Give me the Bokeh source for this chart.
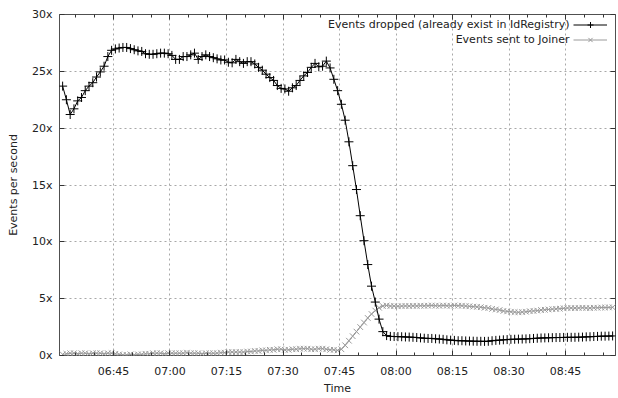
import pandas as pd
from bokeh.plotting import figure
from bokeh.models import (ColumnDataSource, FixedTicker, PrintfTickFormatter, DatetimeTickFormatter,
                          LinearAxis, DatetimeAxis, Range1d, Legend, LegendItem, Label)
from bokeh.core.properties import value
from bokeh.embed import file_html
from bokeh.resources import INLINE

# ---- data (per-minute samples) ----
day = "2015-01-01"
first_sample = "06:31:30"
x_start, x_end = "06:30:40", "08:58:16"

dropped = [
    23.7, 22.5, 21.2, 21.7, 22.4, 22.7, 23.3, 23.7, 24.0, 24.5,
    24.95, 25.45, 26.3, 26.85, 26.97, 27.05, 27.1, 27.1, 27.0, 26.9,
    26.8, 26.75, 26.55, 26.5, 26.5, 26.55, 26.6, 26.6, 26.55, 26.4,
    26.05, 26.05, 26.3, 26.3, 26.45, 26.6, 26.05, 26.3, 26.45, 26.3,
    26.2, 26.1, 26.0, 26.0, 25.8, 25.75, 26.05, 25.85, 25.7, 25.85,
    25.85, 25.65, 25.35, 25.1, 24.75, 24.45, 24.2, 23.75, 23.5, 23.45,
    23.25, 23.55, 23.75, 24.2, 24.6, 24.9, 25.35, 25.7, 25.4, 25.45,
    25.9, 25.3, 24.3, 23.3, 22.1, 20.7, 18.8, 16.7, 14.6, 12.3,
    10.1, 8.0, 6.1, 4.7, 3.2, 2.1, 1.75,
    1.68, 1.67, 1.66,
    1.65, 1.63, 1.62, 1.6, 1.58, 1.55, 1.52, 1.5, 1.5, 1.47,
    1.45, 1.42, 1.38, 1.35, 1.33, 1.3, 1.3, 1.28, 1.27, 1.26,
    1.25, 1.25, 1.24, 1.25, 1.3, 1.33, 1.35, 1.38, 1.4, 1.42,
    1.43, 1.44, 1.45, 1.46, 1.48, 1.5, 1.52, 1.54, 1.55, 1.56,
    1.57, 1.58, 1.58, 1.59, 1.6, 1.6, 1.6, 1.61, 1.62, 1.64,
    1.65, 1.67, 1.68, 1.7, 1.7, 1.71, 1.72,
]

sent = [
    0.1, 0.15, 0.2, 0.2, 0.15, 0.2, 0.2, 0.15, 0.2, 0.2,
    0.2, 0.15, 0.2, 0.2, 0.15, 0.1, 0.05, 0.05, 0.1, 0.05,
    0.1, 0.1, 0.15, 0.15, 0.2, 0.2, 0.2, 0.15, 0.2, 0.2,
    0.2, 0.2, 0.2, 0.25, 0.2, 0.2, 0.2, 0.15, 0.2, 0.2,
    0.2, 0.2, 0.25, 0.25, 0.3, 0.3, 0.3, 0.3, 0.3, 0.35,
    0.35, 0.4, 0.4, 0.45, 0.45, 0.5, 0.5, 0.55, 0.55, 0.5,
    0.5, 0.55, 0.55, 0.6, 0.6, 0.6, 0.55, 0.55, 0.6, 0.6,
    0.55, 0.5, 0.5, 0.45, 0.55, 0.9, 1.3, 1.7, 2.1, 2.5,
    2.9, 3.3, 3.65, 3.95, 4.2, 4.35, 4.4,
    4.35, 4.35, 4.33,
    4.35, 4.36, 4.35, 4.37, 4.36, 4.38, 4.37, 4.38, 4.4, 4.38,
    4.37, 4.4, 4.38, 4.37, 4.4, 4.38, 4.38, 4.35, 4.33, 4.3,
    4.28, 4.25, 4.2, 4.18, 4.1, 4.05, 4.0, 3.92, 3.88, 3.85,
    3.82, 3.8, 3.82, 3.85, 3.9, 3.92, 3.95, 4.0, 4.02, 4.05,
    4.08, 4.1, 4.12, 4.15, 4.18, 4.18, 4.17, 4.18, 4.2, 4.18,
    4.17, 4.2, 4.2, 4.22, 4.22, 4.23, 4.24,
]

x_tick_labels = ["06:45", "07:00", "07:15", "07:30", "07:45", "08:00", "08:15", "08:30", "08:45"]
y_ticks = [0, 5, 10, 15, 20, 25, 30]

series_names = ["Events dropped (already exist in IdRegistry)", "Events sent to Joiner"]

# ---- build ----
times = pd.date_range(f"{day} {first_sample}", periods=len(dropped), freq="1min")
src = ColumnDataSource(dict(t=times, dropped=dropped, sent=sent))


def ms(ts):
    return pd.Timestamp(ts).value / 1e6


major_ticks = [ms(f"{day} {lab}") for lab in x_tick_labels]
minor_ticks = [ms(t) for t in pd.date_range(f"{day} 06:35", f"{day} 08:55", freq="5min")]

FONT = "DejaVu Sans"
TXT = "#222222"

p = figure(width=618, height=398, x_axis_type="datetime",
           x_range=Range1d(ms(f"{day} {x_start}"), ms(f"{day} {x_end}")),
           y_range=Range1d(0, 30),
           output_backend="svg", toolbar_location=None,
           min_border_left=59, min_border_right=3, min_border_top=14, min_border_bottom=43)
p.background_fill_color = "white"
p.border_fill_color = "white"
p.outline_line_color = "#505050"
p.outline_line_width = 1

xticker = FixedTicker(ticks=major_ticks, minor_ticks=minor_ticks)
yticker = FixedTicker(ticks=y_ticks)
fmt = DatetimeTickFormatter(minutes="%H:%M", hourmin="%H:%M", hours="%H:%M", minsec="%H:%M")


def style_axis(ax, labels=True):
    ax.axis_line_color = None
    ax.major_tick_in = 5
    ax.major_tick_out = 0
    ax.minor_tick_in = 3
    ax.minor_tick_out = 0
    ax.major_tick_line_color = "#333333"
    ax.minor_tick_line_color = "#333333"
    ax.major_label_text_font = FONT
    if labels:
        ax.major_label_text_font_size = "11px"
        ax.major_label_text_color = TXT
    else:
        ax.major_label_text_font_size = "1px"
        ax.major_label_text_color = None
        ax.major_label_standoff = 0
    ax.axis_label_text_font = FONT
    ax.axis_label_text_font_size = "11px"
    ax.axis_label_text_font_style = "normal"
    ax.axis_label_text_color = TXT


xa = p.xaxis[0]
xa.ticker = xticker
xa.formatter = fmt
style_axis(xa)
xa.axis_label = "Time"
xa.major_label_standoff = 9
xa.axis_label_standoff = 1

ya = p.yaxis[0]
ya.ticker = yticker
ya.formatter = PrintfTickFormatter(format="%dx")
style_axis(ya)
ya.axis_label = "Events per second"
ya.major_label_standoff = 7
ya.axis_label_standoff = 9

top = DatetimeAxis(ticker=xticker, formatter=fmt)
style_axis(top, labels=False)
p.add_layout(top, "above")

right = LinearAxis(ticker=yticker, formatter=PrintfTickFormatter(format="%dx"))
style_axis(right, labels=False)
right.minor_tick_in = 0
p.add_layout(right, "right")

for g in (p.xgrid[0], p.ygrid[0]):
    g.grid_line_color = "#a8a8a8"
    g.grid_line_dash = "2 3"
    g.grid_line_width = 1

GRAY = "#9a9a9a"
gl = p.line("t", "sent", source=src, line_color=GRAY, line_width=1)
gs = p.scatter("t", "sent", source=src, marker="x", size=8, line_color=GRAY, line_width=1)
bl = p.line("t", "dropped", source=src, line_color="black", line_width=1)
bs = p.scatter("t", "dropped", source=src, marker="cross", size=9, line_color="black", line_width=1)

# legend samples (glyph only); texts are placed to their left, gnuplot style
legend = Legend(items=[LegendItem(label=value(" "), renderers=[bl, bs]),
                       LegendItem(label=value(" "), renderers=[gl, gs])],
                location=(514, 308), margin=0, padding=0, spacing=0,
                glyph_width=34, glyph_height=15, label_height=15, label_width=0,
                label_standoff=0, label_text_font_size="1px", label_text_color=None,
                border_line_color=None, background_fill_alpha=0)
p.add_layout(legend)

for i, name in enumerate(series_names):
    p.add_layout(Label(x=510, y=331 - 15 * i, x_units="screen", y_units="screen", text=name,
                       text_align="right", text_baseline="middle", text_font=FONT,
                       text_font_size="11px", text_color=TXT))

open("out.html", "w").write(file_html(p, INLINE))
